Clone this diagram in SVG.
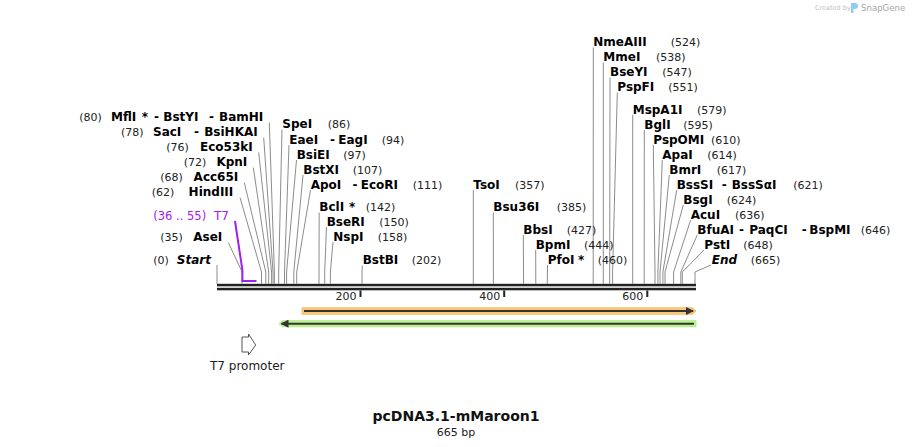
<svg xmlns="http://www.w3.org/2000/svg" width="913" height="447" viewBox="0 0 913 447">
<defs>
<style>
text{font-family:"DejaVu Sans",Verdana,sans-serif;}
.n{font-size:12px;font-weight:bold;fill:#000;}
.i{font-style:italic;}
.p{font-size:11px;fill:#222;}
.t7{font-size:12px;fill:#a020f0;}
.tick{font-size:11px;fill:#222;}
.ln{fill:none;stroke:#8c8c8c;stroke-width:1;}
.pl{fill:none;stroke:#a020f0;stroke-width:2;}
</style>
<marker id="ah" viewBox="0 0 8 8" refX="7" refY="4" markerWidth="4" markerHeight="4" orient="auto-start-reverse">
<path d="M0,0 L8,4 L0,8 Z" fill="#333"/>
</marker>
</defs>
<rect width="913" height="447" fill="#fff"/>

<g id="credit">
<text x="815" y="10" style="font-size:6.5px;fill:#c0c0c0">Created by</text>
<path d="M851,3 h4 a3,3 0 0 1 0,6 h-1.5 v4 h-2.5 Z" fill="#8fcdf0"/>
<text x="861" y="11" style="font-size:8.6px;fill:#a8a8a8">SnapGene</text>
</g>

<g id="backbone">
<rect x="217" y="283.8" width="479" height="2.5" fill="#222"/>
<rect x="217" y="287.8" width="479" height="2.5" fill="#222"/>
<rect x="359.5" y="290.5" width="2" height="6.5" fill="#222"/>
<rect x="503.2" y="290.5" width="2" height="6.5" fill="#222"/>
<rect x="646.3" y="290.5" width="2" height="6.5" fill="#222"/>
<text class="tick" x="356.5" y="300" text-anchor="end">200</text>
<text class="tick" x="500.2" y="300" text-anchor="end">400</text>
<text class="tick" x="643.3" y="300" text-anchor="end">600</text>
</g>

<g id="connectors">
<polyline class="ln" points="269.3,122.5 274.4,272 274.4,284"/>
<polyline class="ln" points="263.7,137.5 273,272 273,284"/>
<polyline class="ln" points="258.7,152.5 271.6,272 271.6,284"/>
<polyline class="ln" points="253.3,167.5 268.7,272 268.7,284"/>
<polyline class="ln" points="244.3,182.5 265.8,272 265.8,284"/>
<polyline class="ln" points="240,197.5 261.5,272 261.5,284"/>
<polyline class="ln" points="228.3,242.5 242.1,272 242.1,284"/>
<polyline class="ln" points="217,265 217,284"/>
<polyline class="ln" points="282,129.5 278.7,272 278.7,284"/>
<polyline class="ln" points="289,145 284.5,272 284.5,284"/>
<polyline class="ln" points="296.5,160 286.6,272 286.6,284"/>
<polyline class="ln" points="303,175 293.8,272 293.8,284"/>
<polyline class="ln" points="310.5,190 296.7,272 296.7,284"/>
<polyline class="ln" points="319.2,212.5 319,272 319,284"/>
<polyline class="ln" points="326.5,227 324.7,272 324.7,284"/>
<polyline class="ln" points="333,242 330.4,272 330.4,284"/>
<polyline class="ln" points="362.3,265.5 362,272 362,284"/>
<polyline class="ln" points="473.3,190 473.3,284"/>
<polyline class="ln" points="493.3,212.5 493.4,284"/>
<polyline class="ln" points="523.3,235 523.6,284"/>
<polyline class="ln" points="535.7,250 535.8,284"/>
<polyline class="ln" points="547.5,265 547.3,284"/>
<polyline class="ln" points="593.3,47.5 593.2,284"/>
<polyline class="ln" points="603.3,62.5 603.3,284"/>
<polyline class="ln" points="610,77.5 609.7,272 609.7,284"/>
<polyline class="ln" points="617.3,92.5 612.6,272 612.6,284"/>
<polyline class="ln" points="632.7,115 632.7,284"/>
<polyline class="ln" points="644.3,130 644.2,284"/>
<polyline class="ln" points="653.3,145 655,272 655,284"/>
<polyline class="ln" points="662.3,160 657.9,272 657.9,284"/>
<polyline class="ln" points="669.3,175 660,272 660,284"/>
<polyline class="ln" points="676.7,190 662.9,272 662.9,284"/>
<polyline class="ln" points="683.3,205 665,272 665,284"/>
<polyline class="ln" points="690.7,220 673.6,272 673.6,284"/>
<polyline class="ln" points="697.3,235 680.8,272 680.8,284"/>
<polyline class="ln" points="704,250 682.3,272 682.3,284"/>
<polyline class="ln" points="711,265 695,272 695,284"/>
<polyline class="pl" points="235,221 242.4,270 242.4,281 256.5,281"/>
</g>

<g id="lab-BamHI"><text class="p" x="79.3" y="121">(80)</text><text class="n" x="111" y="121">MflI</text><text class="n" x="141.7" y="121">*</text><text class="n" x="154" y="121">-</text><text class="n" x="163.3" y="121">BstYI</text><text class="n" x="209" y="121">-</text><text class="n" x="263.3" y="121" text-anchor="end">BamHI</text></g>
<g id="lab-SacI"><text class="p" x="121" y="136">(78)</text><text class="n" x="153" y="136">SacI</text><text class="n" x="194" y="136">-</text><text class="n" x="257.7" y="136" text-anchor="end">BsiHKAI</text></g>
<g id="lab-Eco53kI"><text class="p" x="166.3" y="151">(76)</text><text class="n" x="252.7" y="151" text-anchor="end">Eco53kI</text></g>
<g id="lab-KpnI"><text class="p" x="183.7" y="166">(72)</text><text class="n" x="247.3" y="166" text-anchor="end">KpnI</text></g>
<g id="lab-Acc65I"><text class="p" x="160.3" y="181">(68)</text><text class="n" x="238.3" y="181" text-anchor="end">Acc65I</text></g>
<g id="lab-HindIII"><text class="p" x="151.7" y="196">(62)</text><text class="n" x="233.3" y="196" text-anchor="end">HindIII</text></g>
<g id="lab-T7"><text class="t7" x="153.3" y="219.5" style="font-size:11.5px">(36 .. 55)</text><text class="t7" x="214" y="219.5">T7</text></g>
<g id="lab-AseI"><text class="p" x="160.3" y="241">(35)</text><text class="n" x="222.3" y="241" text-anchor="end">AseI</text></g>
<g id="lab-Start"><text class="p" x="153.3" y="263.5">(0)</text><text class="n i" x="211" y="263.5" text-anchor="end">Start</text></g>

<g id="lab-SpeI"><text class="n" x="282.3" y="128">SpeI</text><text class="p" x="327.7" y="128">(86)</text></g>
<g id="lab-EagI"><text class="n" x="289.3" y="143.5">EaeI</text><text class="n" x="330" y="143.5">-</text><text class="n" x="338.3" y="143.5">EagI</text><text class="p" x="381.7" y="143.5">(94)</text></g>
<g id="lab-BsiEI"><text class="n" x="296.7" y="158.5">BsiEI</text><text class="p" x="343.3" y="158.5">(97)</text></g>
<g id="lab-BstXI"><text class="n" x="303.3" y="173.5">BstXI</text><text class="p" x="352.7" y="173.5">(107)</text></g>
<g id="lab-EcoRI"><text class="n" x="310.7" y="188.5">ApoI</text><text class="n" x="352.5" y="188.5">-</text><text class="n" x="360.7" y="188.5">EcoRI</text><text class="p" x="412.7" y="188.5">(111)</text></g>
<g id="lab-BclI"><text class="n" x="319.3" y="211">BclI</text><text class="n" x="349" y="211">*</text><text class="p" x="365.7" y="211">(142)</text></g>
<g id="lab-BseRI"><text class="n" x="326.7" y="225.7">BseRI</text><text class="p" x="379.3" y="225.7">(150)</text></g>
<g id="lab-NspI"><text class="n" x="333.3" y="240.5">NspI</text><text class="p" x="377.7" y="240.5">(158)</text></g>
<g id="lab-BstBI"><text class="n" x="362.7" y="264">BstBI</text><text class="p" x="411.7" y="264">(202)</text></g>

<g id="lab-TsoI"><text class="n" x="473.3" y="188.5">TsoI</text><text class="p" x="515" y="188.5">(357)</text></g>
<g id="lab-Bsu36I"><text class="n" x="493.3" y="211">Bsu36I</text><text class="p" x="556.7" y="211">(385)</text></g>
<g id="lab-BbsI"><text class="n" x="523.3" y="233.5">BbsI</text><text class="p" x="566.7" y="233.5">(427)</text></g>
<g id="lab-BpmI"><text class="n" x="535.7" y="248.5">BpmI</text><text class="p" x="584" y="248.5">(444)</text></g>
<g id="lab-PfoI"><text class="n" x="547.7" y="263.7">PfoI</text><text class="n" x="578" y="263.7">*</text><text class="p" x="597.7" y="263.7">(460)</text></g>

<g id="lab-NmeAIII"><text class="n" x="593.3" y="46">NmeAIII</text><text class="p" x="670.7" y="46">(524)</text></g>
<g id="lab-MmeI"><text class="n" x="603.3" y="61">MmeI</text><text class="p" x="656" y="61">(538)</text></g>
<g id="lab-BseYI"><text class="n" x="610" y="76">BseYI</text><text class="p" x="662.3" y="76">(547)</text></g>
<g id="lab-PspFI"><text class="n" x="617.3" y="91">PspFI</text><text class="p" x="668.3" y="91">(551)</text></g>
<g id="lab-MspA1I"><text class="n" x="632.7" y="113.5">MspA1I</text><text class="p" x="697" y="113.5">(579)</text></g>
<g id="lab-BglI"><text class="n" x="644.3" y="128.5">BglI</text><text class="p" x="683.3" y="128.5">(595)</text></g>
<g id="lab-PspOMI"><text class="n" x="653.3" y="143.5">PspOMI</text><text class="p" x="711" y="143.5">(610)</text></g>
<g id="lab-ApaI"><text class="n" x="662.3" y="158.5">ApaI</text><text class="p" x="707.3" y="158.5">(614)</text></g>
<g id="lab-BmrI"><text class="n" x="669.3" y="173.5">BmrI</text><text class="p" x="716.7" y="173.5">(617)</text></g>
<g id="lab-BssSI"><text class="n" x="676.7" y="188.5">BssSI</text><text class="n" x="721.7" y="188.5">-</text><text class="n" x="731.7" y="188.5">BssSαI</text><text class="p" x="793.3" y="188.5">(621)</text></g>
<g id="lab-BsgI"><text class="n" x="683.3" y="203.5">BsgI</text><text class="p" x="726.7" y="203.5">(624)</text></g>
<g id="lab-AcuI"><text class="n" x="690.7" y="218.5">AcuI</text><text class="p" x="735" y="218.5">(636)</text></g>
<g id="lab-BspMI"><text class="n" x="697.3" y="233.5">BfuAI</text><text class="n" x="739" y="233.5">-</text><text class="n" x="749.3" y="233.5">PaqCI</text><text class="n" x="801.7" y="233.5">-</text><text class="n" x="809.3" y="233.5">BspMI</text><text class="p" x="860.7" y="233.5">(646)</text></g>
<g id="lab-PstI"><text class="n" x="704.3" y="248.5">PstI</text><text class="p" x="743.3" y="248.5">(648)</text></g>
<g id="lab-End"><text class="n i" x="711.7" y="263.5">End</text><text class="p" x="750.7" y="263.5">(665)</text></g>

<g id="feature-orange">
<path d="M302,307.7 H692.5 L696,311 L692.5,314.3 H302 Z" fill="#fcc978" stroke="#f4b860" stroke-width="0.8"/>
<line x1="304" y1="311" x2="693" y2="311" stroke="#333" stroke-width="2" marker-end="url(#ah)"/>
</g>
<g id="feature-green">
<path d="M696,320.7 H282.5 L279,323.7 L282.5,326.7 H696 Z" fill="#bff58f" stroke="#a8e676" stroke-width="0.8"/>
<line x1="694" y1="323.7" x2="281.5" y2="323.7" stroke="#333" stroke-width="2" marker-end="url(#ah)"/>
</g>

<g id="T7-promoter">
<path d="M242,337 H248.5 V334 L255.7,345 L248.5,355 V352 H242 Z" fill="#fff" stroke="#555" stroke-width="1"/>
<text x="210" y="370" style="font-size:12px;fill:#222">T7 promoter</text>
</g>

<g id="title">
<text x="456" y="421" text-anchor="middle" style="font-size:14px;font-weight:bold;fill:#111">pcDNA3.1-mMaroon1</text>
<text x="456" y="436" text-anchor="middle" style="font-size:11px;fill:#222">665 bp</text>
</g>
</svg>
